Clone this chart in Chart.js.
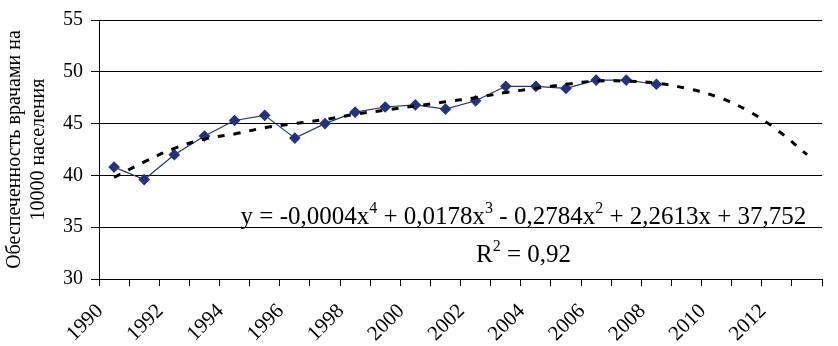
<!DOCTYPE html>
<html>
<head>
<meta charset="utf-8">
<script src="https://cdn.jsdelivr.net/npm/chart.js@4.4.1/dist/chart.umd.min.js"></script>
<style>
  html, body { margin: 0; padding: 0; background: #fff; }
</style>
</head>
<body>
<canvas id="chart" width="838" height="346"></canvas>
<script>
// годы (категории)
const years = ['1990','1991','1992','1993','1994','1995','1996','1997','1998','1999','2000','2001',
  '2002','2003','2004','2005','2006','2007','2008','2009','2010','2011','2012','2013'];

// обеспеченность врачами на 10000 населения
const doctors = [40.8, 39.6, 42.0, 43.8, 45.3, 45.8, 43.6, 45.0, 46.1, 46.6, 46.8, 46.4,
  47.2, 48.6, 48.6, 48.4, 49.2, 49.2, 48.8, null, null, null, null, null];

// линия тренда
const trend = [39.8, 41.3, 42.6, 43.5, 44.0, 44.6, 45.0, 45.4, 45.9, 46.3, 46.7, 47.1,
  47.5, 48.0, 48.4, 48.8, 49.1, 49.1, 48.9, 48.4, 47.6, 46.3, 44.4, 42.0];

const yTicks = [30, 35, 40, 45, 50, 55];

const serif = '"Liberation Serif", "Times New Roman", serif';

// подпись уравнения тренда
const equationParts = [
  ['y = -0,0004x', false], ['4', true], [' + 0,0178x', false], ['3', true],
  [' - 0,2784x', false], ['2', true], [' + 2,2613x + 37,752', false]
];
const r2Parts = [['R', false], ['2', true], [' = 0,92', false]];

function drawParts(ctx, parts, cx, baseline) {
  const big = '25px ' + serif, small = '16px ' + serif;
  let w = 0;
  parts.forEach(p => { ctx.font = p[1] ? small : big; w += ctx.measureText(p[0]).width; });
  let x = cx - w / 2;
  parts.forEach(p => {
    ctx.font = p[1] ? small : big;
    ctx.fillText(p[0], x, p[1] ? baseline - 11 : baseline);
    x += ctx.measureText(p[0]).width;
  });
}

const equationPlugin = {
  id: 'equation',
  afterDatasetsDraw(chart) {
    const ctx = chart.ctx;
    const area = chart.chartArea;
    const y = chart.scales.y;
    const cx = area.left + 0.587 * (area.right - area.left);
    ctx.save();
    ctx.fillStyle = '#000';
    ctx.textAlign = 'left';
    ctx.textBaseline = 'alphabetic';
    drawParts(ctx, equationParts, cx, y.getPixelForValue(35) - 3);
    drawParts(ctx, r2Parts, cx, y.getPixelForValue(35) + 35);
    ctx.restore();
  }
};

const ctx = document.getElementById('chart').getContext('2d');
new Chart(ctx, {
  type: 'line',
  data: {
    labels: years,
    datasets: [{
      label: 'Обеспеченность',
      data: doctors,
      borderColor: '#26337a',
      backgroundColor: '#26337a',
      borderWidth: 1.2,
      pointStyle: 'rectRot',
      pointRadius: 5,
      pointHoverRadius: 5,
      tension: 0,
      order: 2
    }, {
      label: 'Тренд',
      data: trend,
      borderColor: '#000',
      borderWidth: 3,
      borderDash: [7, 9],
      pointRadius: 0,
      tension: 0.4,
      order: 1
    }]
  },
  options: {
    responsive: false,
    animation: false,
    devicePixelRatio: 1,
    layout: { padding: { left: 3, top: 10, right: 0, bottom: 0 } },
    plugins: {
      legend: { display: false },
      tooltip: { enabled: false }
    },
    scales: {
      x: {
        offset: true,
        afterFit: axis => { axis.height = 67; },
        grid: { offset: true, drawOnChartArea: false, color: '#000', tickLength: 7, tickColor: '#000' },
        border: { color: '#000', width: 1 },
        ticks: {
          autoSkip: false,
          minRotation: 45,
          maxRotation: 45,
          labelOffset: -14,
          padding: 13,
          color: '#000',
          font: { family: serif, size: 21 },
          callback: function (v, i) { return i % 2 === 0 ? years[i] : ''; }
        }
      },
      y: {
        min: 30,
        max: 55,
        afterFit: axis => { axis.width = 96; },
        afterBuildTicks: axis => { axis.ticks = yTicks.map(v => ({ value: v })); },
        grid: { color: '#000', lineWidth: 1, tickLength: 8 },
        border: { color: '#000', width: 1 },
        ticks: {
          padding: 8,
          color: '#000',
          font: { family: serif, size: 20 }
        },
        title: {
          display: true,
          text: ['Обеспеченность врачами на', '10000 населения'],
          color: '#000',
          font: { family: serif, size: 20 },
          lineHeight: 1.5,
          padding: { top: 0, bottom: 0 }
        }
      }
    }
  },
  plugins: [equationPlugin]
});
</script>
</body>
</html>
